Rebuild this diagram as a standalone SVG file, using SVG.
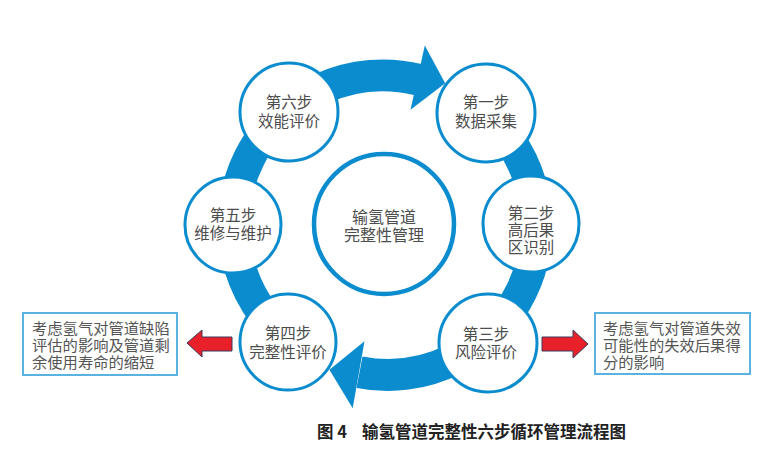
<svg xmlns="http://www.w3.org/2000/svg" width="775" height="471" viewBox="0 0 775 471">
<style>
.ring{fill:none;stroke:#0a8ccf;stroke-width:32;stroke-linecap:butt}
.head{fill:#0a8ccf}
.node{fill:#fff;stroke:#0a8ccf;stroke-width:3}
.hub{fill:#fff;stroke:#0a8ccf;stroke-width:4.5}
.t{font-family:"Noto Sans CJK SC","Noto Sans",sans-serif;font-size:15.5px;fill:#4d4d4d;text-anchor:middle}
.bt{font-family:"Noto Sans CJK SC","Noto Sans",sans-serif;font-size:15.3px;fill:#555}
.box{fill:#fff;stroke:#5ab2e0;stroke-width:2}
.red{fill:#e8202a;stroke:#3a3a5a;stroke-width:1}
.cap{font-family:"Noto Sans CJK SC","Noto Sans",sans-serif;font-size:16.5px;font-weight:bold;fill:#222}
</style>
<rect width="775" height="471" fill="#fff"/>
<g id="connectors">
<path class="ring" d="M288.6,339.9 A149,149 0 0 1 418.7,79.8"/>
<polygon class="head" points="424.8,45.4 445.2,83.2 410.5,109.8"/>
<path class="ring" d="M485.4,113.5 A149,149 0 0 1 359.5,372.2"/>
<polygon class="head" points="364.5,341.2 329.4,369.7 352.7,408.2"/>
<polygon class="red" points="187,343 202,330 202,337 232,337 232,351 202,351 202,357"/>
<polygon class="red" points="542,337 573,337 573,330 588,344 573,358 573,351 542,351"/>
</g>
<g id="hub"><circle class="hub" cx="384" cy="224" r="70"/>
<text class="t" x="384" y="222.5" style="font-size:16px">输氢管道</text>
<text class="t" x="384" y="240.5" style="font-size:16px">完整性管理</text></g>
<g id="step1"><circle class="node" cx="486" cy="113" r="49"/>
<text class="t" x="486" y="107.5">第一步</text><text class="t" x="486" y="126.5">数据采集</text></g>
<g id="step2"><circle class="node" cx="531" cy="224" r="48"/>
<text class="t" x="531" y="218.5">第二步</text><text class="t" x="531" y="235.5">高后果</text><text class="t" x="531" y="252.5">区识别</text></g>
<g id="step3"><circle class="node" cx="488" cy="343" r="49"/>
<text class="t" x="486" y="339.5">第三步</text><text class="t" x="486" y="357.5">风险评价</text></g>
<g id="step4"><circle class="node" cx="288" cy="342" r="48"/>
<text class="t" x="288" y="338.5">第四步</text><text class="t" x="288" y="357.5">完整性评价</text></g>
<g id="step5"><circle class="node" cx="233" cy="225" r="48"/>
<text class="t" x="233" y="220.5">第五步</text><text class="t" x="233" y="238.5">维修与维护</text></g>
<g id="step6"><circle class="node" cx="289" cy="112" r="49"/>
<text class="t" x="289" y="107.5">第六步</text><text class="t" x="289" y="126.5">效能评价</text></g>
<g id="note-left"><rect class="box" x="23" y="313" width="154" height="62"/>
<text class="bt" x="32" y="333.5">考虑氢气对管道缺陷</text>
<text class="bt" x="32" y="350.5">评估的影响及管道剩</text>
<text class="bt" x="32" y="367.5">余使用寿命的缩短</text></g>
<g id="note-right"><rect class="box" x="595" y="313" width="155" height="61"/>
<text class="bt" x="603" y="333.5">考虑氢气对管道失效</text>
<text class="bt" x="603" y="350.5">可能性的失效后果得</text>
<text class="bt" x="603" y="367.5">分的影响</text></g>
<g id="caption"><text class="cap" x="317" y="438">图 4</text>
<text class="cap" x="362" y="438">输氢管道完整性六步循环管理流程图</text></g>
</svg>
